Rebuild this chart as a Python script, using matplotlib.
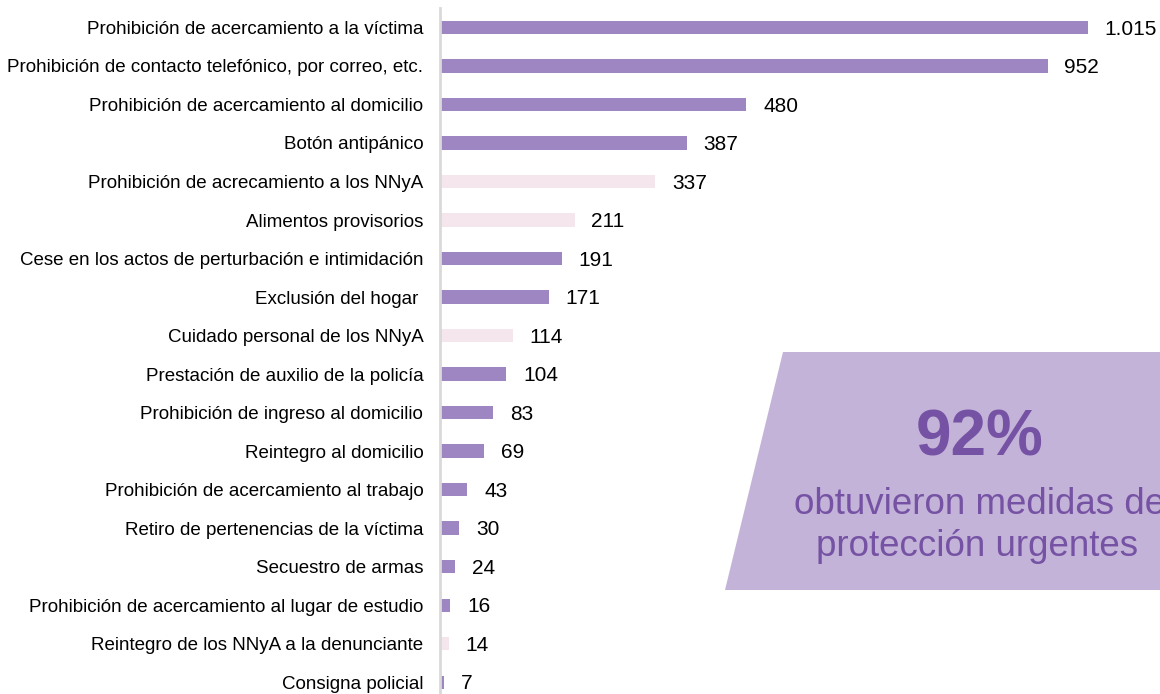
import numpy as np
import matplotlib.pyplot as plt
from matplotlib.patches import Polygon

plt.rcParams['font.family'] = ['Liberation Sans', 'DejaVu Sans']

categories = [
    "Prohibición de acercamiento a la víctima",
    "Prohibición de contacto telefónico, por correo, etc.",
    "Prohibición de acercamiento al domicilio",
    "Botón antipánico",
    "Prohibición de acrecamiento a los NNyA",
    "Alimentos provisorios",
    "Cese en los actos de perturbación e intimidación",
    "Exclusión del hogar ",
    "Cuidado personal de los NNyA",
    "Prestación de auxilio de la policía",
    "Prohibición de ingreso al domicilio",
    "Reintegro al domicilio",
    "Prohibición de acercamiento al trabajo",
    "Retiro de pertenencias de la víctima",
    "Secuestro de armas",
    "Prohibición de acercamiento al lugar de estudio",
    "Reintegro de los NNyA a la denunciante",
    "Consigna policial",
]
values = [1015, 952, 480, 387, 337, 211, 191, 171, 114, 104, 83, 69, 43, 30, 24, 16, 14, 7]
# categories shown in the pale colour
pale = {"Prohibición de acrecamiento a los NNyA", "Alimentos provisorios",
        "Cuidado personal de los NNyA", "Reintegro de los NNyA a la denunciante"}

purple = '#9E86C2'
pink = '#F4E6EC'

W, H = 1160, 694
fig = plt.figure(figsize=(W / 100, H / 100), dpi=100)
ax = fig.add_axes([440 / W, 0, 720 / W, 686 / H])

y = np.arange(len(categories))
colors = [pink if c in pale else purple for c in categories]
ax.barh(y, values, height=0.34, color=colors)

for yi, v in zip(y, values):
    ax.annotate(f"{v:,}".replace(",", "."), (v, yi), xytext=(12, -1.2),
                textcoords='offset points', va='center', ha='left',
                fontsize=15, color='black')

ax.set_xlim(0, 1015 * 720 / 648)
ax.set_ylim(17.31, -0.506)
ax.set_yticks(y)
ax.set_yticklabels(categories, fontsize=13.5)
ax.tick_params(axis='y', length=0, pad=12)
ax.set_xticks([])
for s in ['top', 'right', 'bottom']:
    ax.spines[s].set_visible(False)
ax.spines['left'].set_color('#D9D9D9')
ax.spines['left'].set_linewidth(2)

# callout box
poly = Polygon([(783 / W, 1 - 352 / H), (1.0, 1 - 352 / H), (1.0, 1 - 590 / H),
                (725 / W, 1 - 590 / H)], closed=True, transform=fig.transFigure,
               facecolor='#C3B3D9', edgecolor='none', zorder=0)
fig.patches.append(poly)

fig.text(980 / W, 1 - 439 / H, "92%", ha='center', va='center', fontsize=46,
         fontweight='bold', color='#7552A3')
fig.text(980 / W, 1 - 504 / H, "obtuvieron medidas de", ha='center', va='center',
         fontsize=26.5, color='#7552A3')
fig.text(977 / W, 1 - 546 / H, "protección urgentes", ha='center', va='center',
         fontsize=26.5, color='#7552A3')

fig.savefig('out.png', dpi=100)
